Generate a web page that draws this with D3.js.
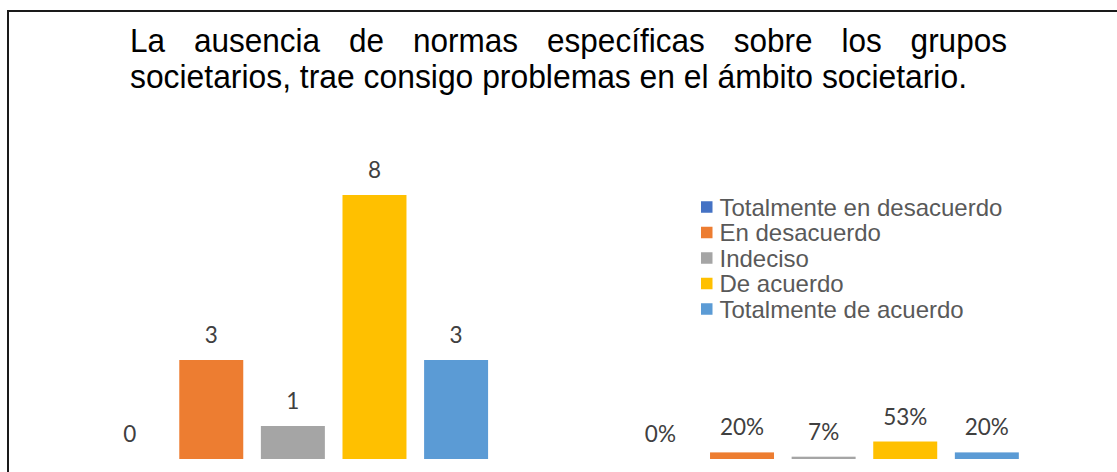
<!DOCTYPE html>
<html>
<head>
<meta charset="utf-8">
<script src="https://cdn.jsdelivr.net/npm/d3@7"></script>
<style>
  html, body { margin: 0; padding: 0; background: #fff; }
  svg { display: block; }
</style>
</head>
<body>
<svg id="chart" width="1117" height="472"></svg>
<script>
// chart data
const titleLine1 = ["La", "ausencia", "de", "normas", "específicas", "sobre", "los", "grupos"];
const titleLine2 = "societarios, trae consigo problemas en el ámbito societario.";
const seriesNames = ["Totalmente en desacuerdo", "En desacuerdo", "Indeciso", "De acuerdo", "Totalmente de acuerdo"];
const seriesColors = ["#4472C4", "#ED7D31", "#A5A5A5", "#FFC000", "#5B9BD5"];
const groupNames = ["Frecuencia", "Porcentaje"];
const frecuencia = [0, 3, 1, 8, 3];
const porcentaje = [0, 0.20, 0.07, 0.53, 0.20];

(function drawChart() {
  const svg = d3.select("#chart");
  const width = 1117;
  const height = 472;

  const rows = [];
  groupNames.forEach((g, gi) => {
    const vals = gi === 0 ? frecuencia : porcentaje;
    seriesNames.forEach((s, si) => {
      rows.push({ group: g, series: s, value: vals[si], pct: gi === 1 });
    });
  });

  // outer frame (only top + left edges fall inside the picture)
  svg
    .append("rect")
    .attr("x", 8)
    .attr("y", 11)
    .attr("width", width + 20)
    .attr("height", height + 20)
    .attr("fill", "none")
    .attr("stroke", "#1a1a1a")
    .attr("stroke-width", 2);

  // title, first line justified between two edges
  const titleLeft = 130;
  const titleRight = 1007;
  const titleFont = "'Liberation Sans', Arial, sans-serif";
  const titleSize = 32.5;

  const words = svg
    .append("g")
    .selectAll("text")
    .data(titleLine1)
    .join("text")
    .attr("y", 52)
    .attr("fill", "#000")
    .style("font-family", titleFont)
    .style("font-size", titleSize + "px")
    .text(d => d);

  const widths = words.nodes().map(n => n.getComputedTextLength() * 0.97);
  words.attr("textLength", (d, i) => widths[i]).attr("lengthAdjust", "spacingAndGlyphs");
  const gap = (titleRight - titleLeft - d3.sum(widths)) / (titleLine1.length - 1);
  let cx = titleLeft;
  words.attr("x", (d, i) => {
    const x = cx;
    cx += widths[i] + gap;
    return x;
  });

  svg
    .append("text")
    .attr("x", titleLeft)
    .attr("y", 88)
    .attr("fill", "#000")
    .attr("textLength", 837)
    .attr("lengthAdjust", "spacingAndGlyphs")
    .style("font-family", titleFont)
    .style("font-size", titleSize + "px")
    .text(titleLine2);

  // scales
  const x0 = d3
    .scaleBand()
    .domain(groupNames)
    .range([27.5, 1089])
    .paddingInner(0.2312)
    .paddingOuter(0.1156);

  const x1 = d3
    .scaleBand()
    .domain(seriesNames)
    .range([0, x0.bandwidth()])
    .paddingInner(0.216)
    .paddingOuter(0.108);

  const y = d3.scaleLinear().domain([0, 9]).range([459, 162]);
  const color = d3.scaleOrdinal().domain(seriesNames).range(seriesColors);

  const plot = svg.append("g");

  plot
    .selectAll("rect.bar")
    .data(rows)
    .join("rect")
    .attr("class", "bar")
    .attr("x", d => x0(d.group) + x1(d.series))
    .attr("y", d => y(d.value))
    .attr("width", x1.bandwidth())
    .attr("height", d => y(0) - y(d.value))
    .attr("fill", d => color(d.series));

  const fmtPct = d3.format(".0%");
  plot
    .selectAll("text.lbl")
    .data(rows)
    .join("text")
    .attr("class", "lbl")
    .attr("x", d => x0(d.group) + x1(d.series) + x1.bandwidth() / 2)
    .attr("y", d => y(d.value) - 17)
    .attr("text-anchor", "middle")
    .attr("fill", "#404040")
    .style("font-family", "Lato, 'Open Sans', sans-serif")
    .style("font-size", "22.5px")
    .text(d => (d.pct ? fmtPct(d.value) : d.value));

  // legend
  const legend = svg.append("g").attr("transform", "translate(701,207)");
  const item = legend
    .selectAll("g")
    .data(seriesNames)
    .join("g")
    .attr("transform", (d, i) => `translate(0,${i * 25.5})`);

  item
    .append("rect")
    .attr("x", 0)
    .attr("y", -5.75)
    .attr("width", 11.5)
    .attr("height", 11.5)
    .attr("fill", d => color(d));

  item
    .append("text")
    .attr("x", 18.5)
    .attr("y", 8.5)
    .attr("fill", "#595959")
    .style("font-family", "'Liberation Sans', Arial, sans-serif")
    .style("font-size", "24px")
    .text(d => d);
})();
</script>
</body>
</html>
